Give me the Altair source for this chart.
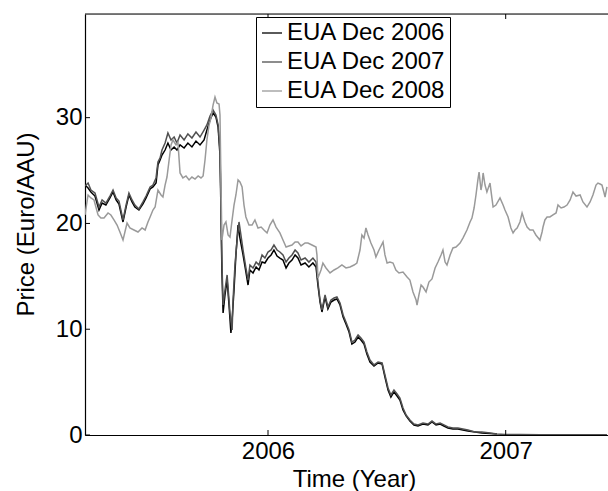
import altair as alt
import pandas as pd

# Daily settlement prices (Euro/AAU) of three EUA futures, time in decimal years
t_2006 = [2005.230, 2005.243, 2005.255, 2005.272, 2005.289, 2005.302, 2005.318, 2005.335, 2005.348, 2005.361,
          2005.373, 2005.390, 2005.403, 2005.415, 2005.428, 2005.440, 2005.457, 2005.474, 2005.487, 2005.504,
          2005.516, 2005.529, 2005.537, 2005.546, 2005.554, 2005.567, 2005.579, 2005.592, 2005.605, 2005.617,
          2005.630, 2005.647, 2005.663, 2005.680, 2005.697, 2005.714, 2005.731, 2005.743, 2005.756, 2005.769,
          2005.781, 2005.790, 2005.798, 2005.802, 2005.806, 2005.811, 2005.819, 2005.828, 2005.836, 2005.844,
          2005.849, 2005.857, 2005.865, 2005.874, 2005.882, 2005.895, 2005.907, 2005.916, 2005.924, 2005.937,
          2005.950, 2005.962, 2005.975, 2005.987, 2006.000, 2006.013, 2006.025, 2006.038, 2006.050, 2006.063,
          2006.076, 2006.088, 2006.101, 2006.114, 2006.126, 2006.139, 2006.156, 2006.172, 2006.189, 2006.202,
          2006.210, 2006.219, 2006.227, 2006.240, 2006.252, 2006.265, 2006.278, 2006.290, 2006.303, 2006.316,
          2006.328, 2006.341, 2006.353, 2006.366, 2006.379, 2006.391, 2006.404, 2006.416, 2006.429, 2006.446,
          2006.463, 2006.480, 2006.492, 2006.505, 2006.517, 2006.530, 2006.543, 2006.555, 2006.568, 2006.581,
          2006.597, 2006.614, 2006.631, 2006.652, 2006.673, 2006.690, 2006.707, 2006.724, 2006.740, 2006.757,
          2006.778, 2006.799, 2006.820, 2006.841, 2006.871, 2006.900, 2006.934, 2006.963]
p_2006 = [23.63, 23.35, 22.97, 22.59, 21.27, 21.93, 21.74, 22.41, 22.97, 22.22,
          21.84, 20.14, 21.55, 22.69, 22.03, 21.55, 21.27, 21.84, 22.41, 23.26,
          23.45, 23.82, 25.52, 26.00, 26.47, 26.94, 27.60, 26.94, 27.23, 26.94,
          27.42, 27.13, 27.60, 27.23, 27.79, 27.42, 27.89, 28.83, 29.78, 30.44,
          30.06, 29.12, 26.47, 21.27, 15.60, 11.53, 13.24, 14.65, 12.29, 9.64,
          10.87, 13.71, 17.02, 19.85, 18.62, 17.02, 15.41, 14.18, 15.60, 15.32,
          15.88, 15.60, 16.35, 16.26, 16.73, 17.02, 17.49, 16.92, 16.73, 16.54,
          15.79, 16.26, 16.54, 17.02, 16.73, 16.07, 16.26, 15.88, 16.26, 15.88,
          14.18, 12.57, 11.63, 13.05, 11.91, 12.57, 12.76, 12.86, 12.29, 11.16,
          10.49, 9.74, 8.60, 8.79, 9.26, 8.98, 8.60, 7.66, 6.90, 6.52,
          6.81, 6.71, 5.48, 4.25, 3.59, 4.07, 3.69, 3.31, 2.36, 1.80,
          1.32, 0.95, 0.85, 1.04, 0.95, 1.23, 0.95, 1.04, 0.85, 0.66,
          0.57, 0.57, 0.47, 0.38, 0.28, 0.19, 0.14, 0.09]

t_2007 = [2005.230, 2005.243, 2005.255, 2005.272, 2005.289, 2005.302, 2005.318, 2005.335, 2005.348, 2005.361,
          2005.373, 2005.390, 2005.403, 2005.415, 2005.428, 2005.440, 2005.457, 2005.474, 2005.487, 2005.504,
          2005.516, 2005.529, 2005.537, 2005.546, 2005.554, 2005.567, 2005.579, 2005.592, 2005.605, 2005.617,
          2005.630, 2005.647, 2005.663, 2005.680, 2005.697, 2005.714, 2005.731, 2005.743, 2005.756, 2005.769,
          2005.781, 2005.790, 2005.798, 2005.802, 2005.806, 2005.811, 2005.819, 2005.828, 2005.836, 2005.840,
          2005.849, 2005.853, 2005.861, 2005.870, 2005.878, 2005.886, 2005.895, 2005.907, 2005.916, 2005.924,
          2005.937, 2005.950, 2005.962, 2005.975, 2005.987, 2006.000, 2006.013, 2006.025, 2006.038, 2006.050,
          2006.063, 2006.076, 2006.088, 2006.101, 2006.114, 2006.126, 2006.139, 2006.156, 2006.172, 2006.189,
          2006.202, 2006.210, 2006.219, 2006.227, 2006.240, 2006.252, 2006.265, 2006.278, 2006.290, 2006.303,
          2006.316, 2006.328, 2006.341, 2006.353, 2006.366, 2006.379, 2006.391, 2006.404, 2006.416, 2006.429,
          2006.446, 2006.463, 2006.480, 2006.492, 2006.505, 2006.517, 2006.530, 2006.543, 2006.555, 2006.568,
          2006.581, 2006.597, 2006.614, 2006.631, 2006.652, 2006.673, 2006.690, 2006.707, 2006.724, 2006.740,
          2006.757, 2006.778, 2006.799, 2006.820, 2006.841, 2006.871, 2006.900, 2006.934, 2006.963, 2006.997,
          2007.060, 2007.144, 2007.228, 2007.313, 2007.426]
p_2007 = [23.54, 23.82, 23.16, 22.88, 21.55, 22.22, 21.93, 22.59, 23.16, 22.41,
          22.12, 20.33, 21.74, 22.88, 22.22, 21.74, 21.37, 22.03, 22.59, 23.45,
          23.63, 24.30, 25.81, 26.19, 26.94, 27.60, 28.55, 27.89, 28.17, 27.60,
          28.36, 27.89, 28.46, 28.08, 28.64, 28.17, 28.83, 29.31, 30.16, 30.72,
          30.25, 29.31, 26.94, 22.22, 16.54, 12.29, 13.71, 15.13, 12.76, 11.53,
          9.93, 12.76, 16.07, 18.43, 20.14, 18.91, 17.49, 15.79, 14.65, 16.07,
          15.79, 16.35, 16.07, 17.02, 16.73, 17.30, 17.49, 17.96, 17.49, 17.30,
          17.02, 16.35, 16.73, 17.02, 17.49, 17.21, 16.54, 16.73, 16.35, 16.73,
          16.35, 14.46, 12.76, 11.82, 13.24, 12.10, 12.76, 12.95, 13.05, 12.48,
          11.34, 10.68, 9.93, 8.79, 8.98, 9.45, 9.17, 8.79, 7.85, 7.09,
          6.62, 6.90, 6.81, 5.67, 4.44, 3.78, 4.25, 3.88, 3.50, 2.55,
          1.89, 1.42, 1.04, 0.95, 1.13, 1.04, 1.32, 1.04, 1.13, 0.95,
          0.76, 0.66, 0.66, 0.57, 0.47, 0.28, 0.28, 0.19, 0.09, 0.05,
          0.04, 0.03, 0.03, 0.02, 0.02]

t_2008 = [2005.230, 2005.243, 2005.255, 2005.268, 2005.285, 2005.297, 2005.310, 2005.327, 2005.339, 2005.352,
          2005.365, 2005.377, 2005.390, 2005.398, 2005.407, 2005.419, 2005.436, 2005.453, 2005.470, 2005.483,
          2005.495, 2005.504, 2005.516, 2005.525, 2005.537, 2005.550, 2005.558, 2005.567, 2005.575, 2005.584,
          2005.592, 2005.600, 2005.613, 2005.621, 2005.630, 2005.642, 2005.655, 2005.668, 2005.680, 2005.693,
          2005.706, 2005.718, 2005.727, 2005.735, 2005.743, 2005.752, 2005.760, 2005.769, 2005.777, 2005.785,
          2005.794, 2005.798, 2005.802, 2005.806, 2005.815, 2005.823, 2005.832, 2005.840, 2005.849, 2005.857,
          2005.865, 2005.874, 2005.882, 2005.891, 2005.899, 2005.907, 2005.920, 2005.933, 2005.945, 2005.958,
          2005.971, 2005.983, 2005.996, 2006.008, 2006.021, 2006.034, 2006.050, 2006.063, 2006.076, 2006.088,
          2006.101, 2006.114, 2006.126, 2006.139, 2006.156, 2006.168, 2006.185, 2006.202, 2006.206, 2006.210,
          2006.223, 2006.231, 2006.244, 2006.261, 2006.278, 2006.294, 2006.311, 2006.328, 2006.345, 2006.362,
          2006.374, 2006.387, 2006.395, 2006.404, 2006.412, 2006.421, 2006.433, 2006.446, 2006.454, 2006.467,
          2006.484, 2006.492, 2006.501, 2006.513, 2006.526, 2006.538, 2006.551, 2006.568, 2006.585, 2006.597,
          2006.610, 2006.623, 2006.627, 2006.635, 2006.644, 2006.652, 2006.665, 2006.677, 2006.690, 2006.703,
          2006.715, 2006.728, 2006.736, 2006.745, 2006.753, 2006.766, 2006.778, 2006.791, 2006.808, 2006.820,
          2006.837, 2006.850, 2006.858, 2006.867, 2006.875, 2006.883, 2006.888, 2006.896, 2006.900, 2006.905,
          2006.913, 2006.921, 2006.934, 2006.942, 2006.947, 2006.959, 2006.976, 2006.989, 2006.997, 2007.010,
          2007.022, 2007.031, 2007.039, 2007.048, 2007.060, 2007.069, 2007.081, 2007.090, 2007.102, 2007.115,
          2007.127, 2007.144, 2007.153, 2007.157, 2007.165, 2007.174, 2007.186, 2007.199, 2007.212, 2007.220,
          2007.233, 2007.245, 2007.258, 2007.271, 2007.283, 2007.296, 2007.313, 2007.325, 2007.342, 2007.355,
          2007.367, 2007.380, 2007.388, 2007.397, 2007.405, 2007.414, 2007.418, 2007.426]
p_2008 = [20.80, 22.69, 22.41, 22.22, 20.80, 20.51, 20.51, 20.99, 20.80, 20.33,
          19.85, 19.19, 18.43, 19.19, 20.04, 19.57, 19.38, 19.19, 19.57, 19.38,
          20.14, 20.61, 21.27, 21.55, 23.16, 22.69, 22.50, 23.63, 24.39, 26.00,
          27.42, 27.89, 27.42, 27.70, 24.77, 24.30, 24.49, 24.11, 24.39, 24.20,
          24.49, 24.30, 24.49, 26.00, 27.89, 29.31, 29.97, 31.20, 31.95, 31.39,
          31.29, 30.25, 24.11, 18.43, 19.85, 20.14, 18.91, 18.72, 20.33, 21.74,
          22.69, 24.11, 23.92, 23.45, 21.74, 20.61, 19.85, 19.85, 20.33, 19.57,
          19.66, 19.38, 19.10, 19.85, 20.33, 19.66, 19.10, 18.43, 17.77, 17.87,
          17.96, 18.25, 18.25, 17.87, 18.15, 18.15, 17.96, 17.77, 17.02, 14.84,
          15.60, 16.26, 15.79, 15.32, 15.60, 15.79, 16.07, 15.79, 15.88, 16.07,
          16.26, 17.49, 18.91, 18.62, 19.57, 18.91, 18.15, 17.49, 16.83, 17.49,
          18.25, 17.02, 16.26, 16.35, 16.26, 15.60, 15.32, 15.41, 14.94, 14.65,
          13.52, 12.76, 12.29, 13.24, 14.18, 13.99, 13.52, 14.46, 14.75, 15.79,
          16.35, 17.02, 17.49, 16.35, 16.07, 17.02, 17.68, 17.77, 18.15, 18.62,
          19.38, 20.14, 20.51, 21.46, 22.69, 24.11, 24.86, 23.16, 23.63, 24.77,
          23.63, 22.97, 23.82, 22.41, 21.55, 21.74, 22.41, 21.74, 21.27, 20.61,
          19.57, 19.10, 19.38, 19.57, 20.14, 20.99, 20.14, 19.66, 19.38, 19.38,
          18.91, 18.43, 19.19, 19.66, 20.33, 20.61, 20.61, 20.80, 20.99, 21.74,
          21.46, 21.55, 21.74, 22.22, 22.97, 22.59, 22.69, 22.03, 21.55, 22.03,
          22.69, 23.63, 23.82, 23.73, 23.63, 22.88, 22.50, 23.45]

contracts = ["EUA Dec 2006", "EUA Dec 2007", "EUA Dec 2008"]
line_colors = ["#000000", "#505050", "#9a9a9a"]
year_ticks = [2006, 2007]
price_ticks = [0, 10, 20, 30]

frames = []
for name, ts, ps in zip(contracts, [t_2006, t_2007, t_2008], [p_2006, p_2007, p_2008]):
    frames.append(pd.DataFrame({"year": ts, "price": ps, "contract": name}))
prices = pd.concat(frames, ignore_index=True)

W, H = 523, 421
FONT = "Liberation Sans"

x_scale = alt.Scale(domain=[2005.2301, 2007.4304], nice=False, zero=False)
y_scale = alt.Scale(domain=[0, 39.8], nice=False, zero=False)

x_axis = alt.Axis(
    values=year_ticks, format="d", title="Time (Year)", ticks=False, tickSize=0, grid=False,
    domainColor="black", domainWidth=1.2, labelFontSize=24, labelColor="black", labelPadding=4,
    labelFlush=False, labelFont=FONT, titleFont=FONT, titleFontSize=24, titleFontWeight="normal",
    titleColor="black", titleX=269, titleY=51, titleBaseline="alphabetic", titleAlign="center",
)
y_axis = alt.Axis(
    values=price_ticks, title="Price (Euro/AAU)", ticks=False, tickSize=0, grid=False,
    domainColor="black", domainWidth=1.2, labelFontSize=24, labelColor="black", labelPadding=3,
    labelFlush=False, labelFont=FONT, titleFont=FONT, titleFontSize=24, titleFontWeight="normal",
    titleColor="black", titleAngle=270, titleX=-52, titleY=210, titleBaseline="alphabetic",
    titleAlign="center",
)

lines = alt.Chart(prices).mark_line(strokeWidth=1.5, clip=True).encode(
    x=alt.X("year:Q", scale=x_scale, axis=x_axis),
    y=alt.Y("price:Q", scale=y_scale, axis=y_axis),
    color=alt.Color(
        "contract:N",
        scale=alt.Scale(domain=contracts, range=line_colors),
        legend=alt.Legend(
            title=None, orient="none", legendX=171, legendY=3, direction="vertical",
            strokeColor="black", fillColor="white", padding=4, cornerRadius=0,
            symbolType="stroke", symbolSize=400, symbolStrokeWidth=1.3, symbolOpacity=1,
            labelFont=FONT, labelFontSize=24, labelColor="black", labelOffset=3,
            rowPadding=5, labelLimit=400,
        ),
    ),
)

# inward tick marks on the bottom and top edges, and on the left edge
year_df = pd.DataFrame({"year": year_ticks})
price_df = pd.DataFrame({"price": price_ticks})
tick_style = dict(color="black", strokeWidth=1)

bottom_ticks = alt.Chart(year_df).mark_rule(**tick_style).encode(
    x=alt.X("year:Q", scale=x_scale, axis=x_axis), y=alt.value(H), y2=alt.value(H - 5)
)
top_ticks = alt.Chart(year_df).mark_rule(**tick_style).encode(
    x=alt.X("year:Q", scale=x_scale, axis=x_axis), y=alt.value(0), y2=alt.value(5)
)
left_ticks = alt.Chart(price_df).mark_rule(**tick_style).encode(
    y=alt.Y("price:Q", scale=y_scale, axis=y_axis), x=alt.value(0), x2=alt.value(5)
)
top_edge = alt.Chart(pd.DataFrame({"edge": [0]})).mark_rule(color="black", strokeWidth=1.2).encode(
    x=alt.value(0), x2=alt.value(W), y=alt.value(0)
)

chart = (
    alt.layer(lines, bottom_ticks, top_ticks, left_ticks, top_edge)
    .properties(
        width=W, height=H,
        padding={"left": 85, "top": 14, "right": 0, "bottom": 56},
        autosize=alt.AutoSizeParams(type="none"),
        background="white",
    )
    .configure_view(stroke=None)
    .configure(font=FONT)
)

chart.save("out.html", embed_options={"renderer": "svg", "actions": False})
